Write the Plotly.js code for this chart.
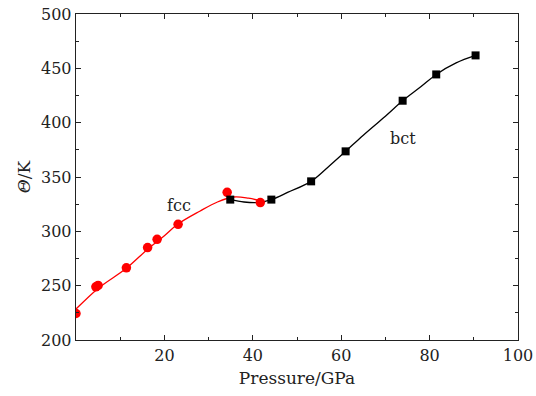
<!DOCTYPE html>
<html>
<head>
<meta charset="utf-8">
<script src="https://cdn.plot.ly/plotly-3.0.1.min.js"></script>
<style>html,body{margin:0;padding:0;background:#fff;}#chart{width:536px;height:396px;}</style>
</head>
<body>
<div id="chart"></div>
<script>
// fcc data points (red circles)
const fccP = [0, 4.5, 5.0, 11.4, 16.2, 18.35, 23.1, 34.2, 41.7];
const fccT = [224.4, 248.9, 250.2, 266.4, 285.1, 292.7, 306.5, 335.9, 326.5];
// fcc fitted curve
const fccFitP = [0, 5, 11.4, 16.2, 20, 23, 28, 32, 35.7, 39, 42.8];
const fccFitT = [228.5, 247.5, 266, 283.5, 296, 306.5, 318.5, 327, 331.6, 330.5, 327];
// bct data points (black squares)
const bctP = [34.9, 44.2, 53.2, 61.0, 73.9, 81.5, 90.4];
const bctT = [329.2, 329.2, 346, 373.6, 420.2, 444.4, 461.9];
// bct fitted curve
const bctFitP = [34.9, 38, 41, 44.2, 48, 53.2, 57, 61, 65, 70, 73.9, 78, 81.5, 86, 90.4];
const bctFitT = [329.2, 327, 326.5, 329.2, 336, 346, 359, 373.6, 388.5, 406, 420.2, 433, 444.4, 455, 461.9];
// tick labels
const xTicks = [20, 40, 60, 80, 100];
const yTicks = [200, 250, 300, 350, 400, 450, 500];

const FONT = 'DejaVu Serif';
const axisCol = '#222';

const traces = [
  {x: fccFitP, y: fccFitT, mode: 'lines', line: {color: '#ff0000', width: 1.3, shape: 'spline'}, hoverinfo: 'skip'},
  {x: bctFitP, y: bctFitT, mode: 'lines', line: {color: '#000000', width: 1.3, shape: 'spline'}, hoverinfo: 'skip'},
  {x: fccP, y: fccT, mode: 'markers', marker: {color: '#ff0000', size: 9.5, symbol: 'circle'}},
  {x: bctP, y: bctT, mode: 'markers', marker: {color: '#000000', size: 8, symbol: 'square'}}
];

const layout = {
  width: 536, height: 396,
  margin: {l: 75.5, r: 18, t: 13.5, b: 56},
  showlegend: false,
  paper_bgcolor: '#fff', plot_bgcolor: '#fff',
  font: {family: FONT, size: 16, color: '#222'},
  xaxis: {
    range: [0, 100], tickvals: xTicks, ticktext: xTicks.map(String),
    ticks: 'inside', ticklen: 5, tickwidth: 1, tickcolor: axisCol,
    minor: {tickvals: [10, 30, 50, 70, 90], ticks: 'inside', ticklen: 3, tickcolor: axisCol},
    showline: true, linecolor: axisCol, linewidth: 1.3, mirror: 'ticks',
    showgrid: false, zeroline: false,
    tickfont: {family: FONT, size: 16, color: '#222'},
    title: {text: 'Pressure/GPa', font: {family: FONT, size: 17, color: '#222'}, standoff: 8}
  },
  yaxis: {
    range: [200, 500], tickvals: yTicks, ticktext: yTicks.map(String),
    ticks: 'inside', ticklen: 5, tickwidth: 1, tickcolor: axisCol,
    minor: {tickvals: [225, 275, 325, 375, 425, 475], ticks: 'inside', ticklen: 3, tickcolor: axisCol},
    showline: true, linecolor: axisCol, linewidth: 1.3, mirror: 'ticks',
    showgrid: false, zeroline: false,
    tickfont: {family: FONT, size: 16, color: '#222'},
    title: {text: '<i>Θ</i>/K', font: {family: FONT, size: 17, color: '#222'}, standoff: 6}
  },
  annotations: [
    {x: 23.2, y: 324, xref: 'x', yref: 'y', text: 'fcc', showarrow: false, font: {family: FONT, size: 16, color: '#222'}},
    {x: 73.9, y: 385.3, xref: 'x', yref: 'y', text: 'bct', showarrow: false, font: {family: FONT, size: 16, color: '#222'}}
  ]
};

Plotly.newPlot('chart', traces, layout, {displayModeBar: false, staticPlot: true});
</script>
</body>
</html>
